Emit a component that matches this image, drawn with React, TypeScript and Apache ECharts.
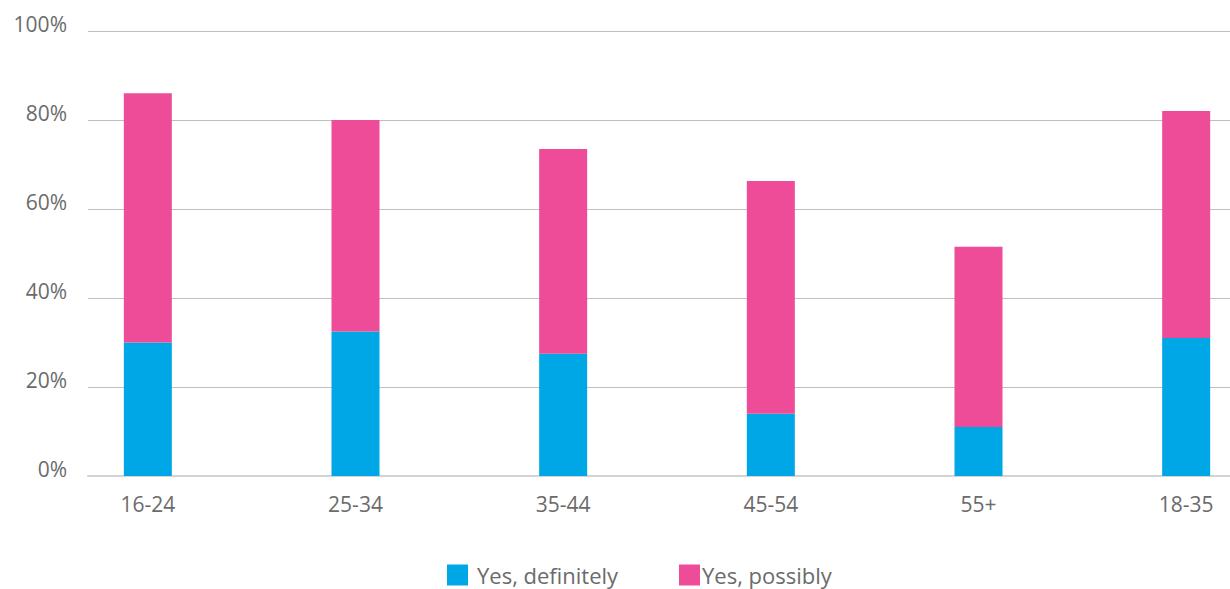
import React, { useEffect, useRef } from "react";
import * as echarts from "echarts";

const categories = ["16-24", "25-34", "35-44", "45-54", "55+", "18-35"];
const definitely = [30, 32.5, 27.5, 14, 11, 31];
const possibly = [56, 47.5, 46, 52.3, 40.5, 51];
const yTicks = [0, 20, 40, 60, 80, 100];

const BLUE = "#00a7e6";
const PINK = "#ee4b98";
const TEXT = "#6b6b6b";
const FONT = "'Open Sans', Lato, sans-serif";

export default function App() {
  const ref = useRef<HTMLDivElement>(null);
  useEffect(() => {
    document.body.style.margin = "0";
    document.body.style.overflow = "hidden";
    const chart = echarts.init(ref.current!, null, { renderer: "svg" });
    chart.setOption({
      animation: false,
      backgroundColor: "#ffffff",
      grid: [
        { left: 88, width: 1142, top: 31, bottom: 113 },
        { left: 44, width: 1246, top: 31, bottom: 113 },
      ],
      xAxis: [
        {
          gridIndex: 0,
          type: "value",
          min: 0,
          max: 1,
          axisLine: { show: true, lineStyle: { color: "#d4d4d4", width: 2 } },
          axisTick: { show: false },
          axisLabel: { show: false },
          splitLine: { show: false },
        },
        {
          gridIndex: 1,
          type: "category",
          data: categories,
          axisLine: { show: false },
          axisTick: { show: false },
          axisLabel: { color: TEXT, fontSize: 21, fontFamily: FONT, margin: 17 },
        },
      ],
      yAxis: [
        {
          gridIndex: 0,
          type: "value",
          min: yTicks[0],
          max: yTicks[yTicks.length - 1],
          interval: 20,
          axisLine: { show: false },
          axisTick: { show: false },
          axisLabel: {
            formatter: "{value}%",
            color: TEXT,
            fontSize: 21,
            fontFamily: FONT,
            margin: 21,
            verticalAlign: "bottom",
            lineHeight: 14,
          },
          splitLine: { lineStyle: { color: "#c0c0c0", width: 1 } },
        },
        {
          gridIndex: 1,
          type: "value",
          min: 0,
          max: 100,
          show: false,
          splitLine: { show: false },
        },
      ],
      legend: [
        {
          data: ["Yes, definitely"],
          left: 447,
          top: 563,
          padding: 0,
          itemWidth: 21,
          itemHeight: 21,
          icon: "rect",
          textStyle: { color: TEXT, fontSize: 22, fontFamily: FONT, lineHeight: 22, padding: [2, 0, 0, 4] },
        },
        {
          data: ["Yes, possibly"],
          left: 679,
          top: 563,
          padding: 0,
          itemWidth: 21,
          itemHeight: 21,
          icon: "rect",
          textStyle: { color: TEXT, fontSize: 22, fontFamily: FONT, lineHeight: 22, padding: [2, 0, 0, -3] },
        },
      ],
      series: [
        {
          name: "Yes, definitely",
          type: "bar",
          stack: "total",
          xAxisIndex: 1,
          yAxisIndex: 1,
          barWidth: 48,
          data: definitely,
          itemStyle: { color: BLUE },
        },
        {
          name: "Yes, possibly",
          type: "bar",
          stack: "total",
          xAxisIndex: 1,
          yAxisIndex: 1,
          barWidth: 48,
          data: possibly,
          itemStyle: { color: PINK },
        },
      ],
    });
    return () => chart.dispose();
  }, []);
  return (
    <div style={{ position: "absolute", left: 0, top: 0, width: 1230, height: 589, overflow: "hidden" }}>
      <div ref={ref} style={{ width: 1290, height: 589 }} />
    </div>
  );
}
